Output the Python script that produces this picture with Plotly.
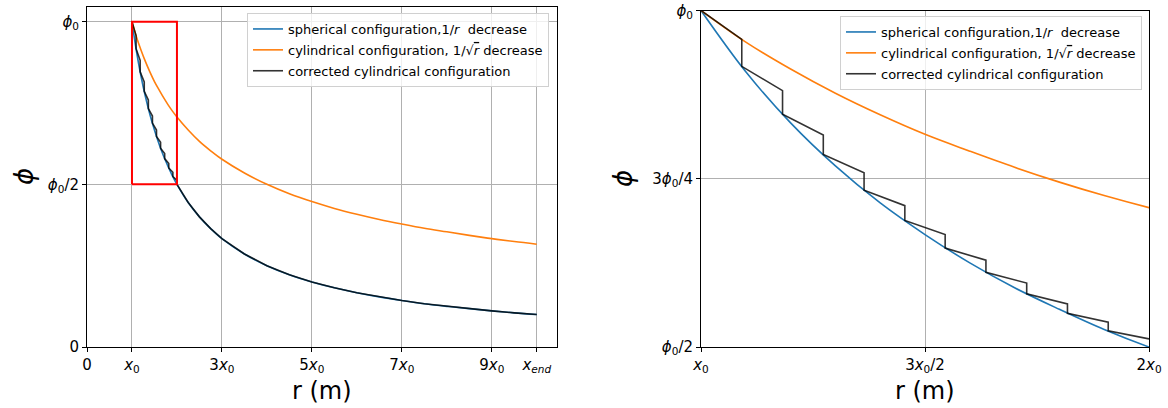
import plotly.graph_objects as go

# ---- data ----
r = [1.0, 1.1, 1.2, 1.3, 1.4, 1.5, 1.6, 1.7, 1.8, 1.9, 2.0, 2.25, 2.5, 2.75, 3.0,
     3.5, 4.0, 4.5, 5.0, 5.5, 6.0, 6.5, 7.0, 7.5, 8.0, 8.5, 9.0, 9.5, 10.0]
phi_spherical = [1.0, 0.909, 0.833, 0.769, 0.714, 0.667, 0.625, 0.588, 0.556, 0.526, 0.5,
                 0.444, 0.4, 0.364, 0.333, 0.286, 0.25, 0.222, 0.2, 0.182, 0.167, 0.154,
                 0.143, 0.133, 0.125, 0.118, 0.111, 0.105, 0.1]
phi_cylindrical = [1.0, 0.953, 0.913, 0.877, 0.845, 0.816, 0.791, 0.767, 0.745, 0.725, 0.707,
                   0.667, 0.632, 0.603, 0.577, 0.535, 0.5, 0.471, 0.447, 0.426, 0.408, 0.392,
                   0.378, 0.365, 0.354, 0.343, 0.333, 0.324, 0.316]

# corrected cylindrical configuration: step positions and levels
step_r = [1.0, 1.091, 1.182, 1.273, 1.364, 1.455, 1.545, 1.636, 1.727, 1.818, 1.909, 2.0]
step_top = [0.957, 0.881, 0.815, 0.759, 0.710, 0.667, 0.629, 0.595, 0.564, 0.537, 0.512]
step_bottom = [1.0, 0.917, 0.846, 0.786, 0.733, 0.688, 0.647, 0.611, 0.579, 0.55, 0.524, 0.5]

# zoom window drawn in red on the left panel
zoom_r = [1.0, 2.0]
zoom_phi = [0.5, 1.0]

left_xticks = [0, 1, 3, 5, 7, 9, 10]
left_xlabels = ["0", "<i>x</i><sub>0</sub>", "3<i>x</i><sub>0</sub>", "5<i>x</i><sub>0</sub>",
                "7<i>x</i><sub>0</sub>", "9<i>x</i><sub>0</sub>", "<i>x</i><sub><i>end</i></sub>"]
left_yticks = [0, 0.5, 1.0]
left_ylabels = ["0", "<i>ϕ</i><sub>0</sub>/2", "<i>ϕ</i><sub>0</sub>"]
right_xticks = [1.0, 1.5, 2.0]
right_xlabels = ["<i>x</i><sub>0</sub>", "3<i>x</i><sub>0</sub>/2", "2<i>x</i><sub>0</sub>"]
right_yticks = [0.5, 0.75, 1.0]
right_ylabels = ["<i>ϕ</i><sub>0</sub>/2", "3<i>ϕ</i><sub>0</sub>/4", "<i>ϕ</i><sub>0</sub>"]

names = ["spherical configuration,1/<i>r</i>  decrease",
         "cylindrical configuration, 1/√<span style='text-decoration:overline'><i>r</i></span> decrease",
         "corrected cylindrical configuration"]

# ---- build corrected staircase ----
cx = [step_r[0]]
cy = [step_bottom[0]]
for k in range(len(step_top)):
    cx += [step_r[k + 1], step_r[k + 1]]
    cy += [step_top[k], step_bottom[k + 1]]
cx_left = cx + [v for v in r if v > step_r[-1]]
cy_left = cy + [p for v, p in zip(r, phi_spherical) if v > step_r[-1]]
cx_right = cx[:-1]
cy_right = cy[:-1]

BLUE = "#1f77b4"
ORANGE = "#ff7f0e"
BLACK = "rgba(0,0,0,0.8)"
FONT = "DejaVu Sans"

fig = go.Figure()

for axn, leg, (xc, yc) in [("", "legend", (cx_left, cy_left)), ("2", "legend2", (cx_right, cy_right))]:
    fig.add_trace(go.Scatter(x=r, y=phi_spherical, mode="lines", name=names[0],
                             line=dict(color=BLUE, width=1.6, shape="spline"),
                             xaxis="x" + axn, yaxis="y" + axn, legend=leg, legendgroup="a"))
    fig.add_trace(go.Scatter(x=r, y=phi_cylindrical, mode="lines", name=names[1],
                             line=dict(color=ORANGE, width=1.6, shape="spline"),
                             xaxis="x" + axn, yaxis="y" + axn, legend=leg, legendgroup="b"))
    fig.add_trace(go.Scatter(x=xc, y=yc, mode="lines", name=names[2],
                             line=dict(color=BLACK, width=1.6),
                             xaxis="x" + axn, yaxis="y" + axn, legend=leg, legendgroup="c"))

# red zoom rectangle
fig.add_trace(go.Scatter(x=[zoom_r[0], zoom_r[1], zoom_r[1], zoom_r[0], zoom_r[0]],
                         y=[zoom_phi[0], zoom_phi[0], zoom_phi[1], zoom_phi[1], zoom_phi[0]],
                         mode="lines", line=dict(color="red", width=2), showlegend=False,
                         xaxis="x", yaxis="y"))

W, H = 1168, 408
def px(v):
    return v / W
def py(v):
    return 1 - v / H

axis_common = dict(showgrid=True, gridcolor="#b0b0b0", gridwidth=0.8, zeroline=False,
                   showline=True, linecolor="black", linewidth=1, mirror=True,
                   ticks="outside", ticklen=4, tickcolor="black", automargin=False,
                   tickfont=dict(family=FONT, size=15, color="black"), tickmode="array")

legend_common = dict(bgcolor="rgba(255,255,255,0.8)", bordercolor="#d0d0d0", borderwidth=1,
                     font=dict(family=FONT, size=13, color="black"), xanchor="left",
                     yanchor="top", tracegroupgap=1, itemwidth=30)

title_font = dict(family=FONT, size=24, color="black")
phi_font = dict(family=FONT, size=26, color="black")

fig.update_layout(
    width=W, height=H, margin=dict(l=0, r=0, t=0, b=0, autoexpand=False),
    plot_bgcolor="white", paper_bgcolor="white",
    font=dict(family=FONT, color="black"),
    xaxis=dict(domain=[px(87), px(557)], range=[0, 10.45], tickvals=left_xticks,
               ticktext=left_xlabels, anchor="y", **axis_common),
    yaxis=dict(domain=[py(347), py(7)], range=[0, 1.045], tickvals=left_yticks,
               ticktext=left_ylabels, anchor="x", **axis_common),
    xaxis2=dict(domain=[px(701), px(1149)], range=[1, 2], tickvals=right_xticks,
                ticktext=right_xlabels, anchor="y2", **axis_common),
    yaxis2=dict(domain=[py(347), py(10.5)], range=[0.5, 1], tickvals=right_yticks,
                ticktext=right_ylabels, anchor="x2", **axis_common),
    legend=dict(x=px(247), y=py(13), **legend_common),
    legend2=dict(x=px(840), y=py(16), **legend_common),
    annotations=[
        dict(text="r (m)", x=px(322), y=py(391), xref="paper", yref="paper", showarrow=False,
             xanchor="center", yanchor="middle", font=title_font),
        dict(text="r (m)", x=px(925), y=py(391), xref="paper", yref="paper", showarrow=False,
             xanchor="center", yanchor="middle", font=title_font),
        dict(text="<i>ϕ</i>", x=px(24), y=py(177), xref="paper", yref="paper", showarrow=False,
             xanchor="center", yanchor="middle", textangle=-90, font=phi_font),
        dict(text="<i>ϕ</i>", x=px(623), y=py(179), xref="paper", yref="paper", showarrow=False,
             xanchor="center", yanchor="middle", textangle=-90, font=phi_font),
    ],
)

fig.write_html("out.html")
